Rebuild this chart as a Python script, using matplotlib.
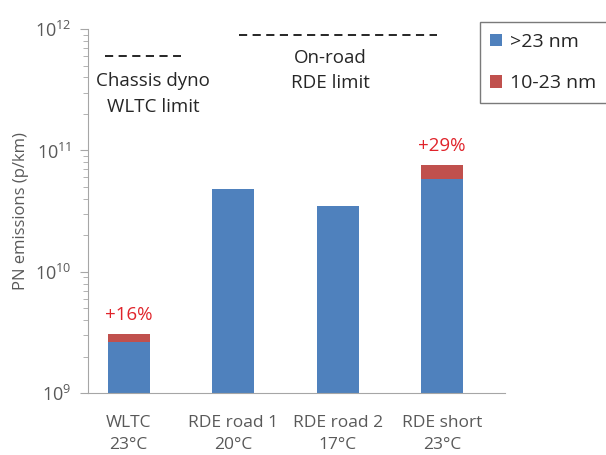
"""PN emissions by test cycle, stacked log-scale bars."""

import matplotlib

matplotlib.use("Agg")
import matplotlib.pyplot as plt
import numpy as np

categories = ["WLTC\n23°C", "RDE road 1\n20°C", "RDE road 2\n17°C", "RDE short\n23°C"]
above_23nm = [2.64e9, 4.85e10, 3.5e10, 5.87e10]
from_10_to_23nm = [0.42e9, 0.0, 0.0, 1.75e10]
pct_labels = ["+16%", "", "", "+29%"]

wltc_limit = 6e11
rde_limit = 9e11

BLUE = "#4F81BD"
RED = "#C0504D"
GREY = "#595959"
TXT = "#262626"

plt.rcParams["font.family"] = ["Open Sans", "DejaVu Sans"]
plt.rcParams["mathtext.default"] = "regular"

fig = plt.figure(figsize=(6.06, 4.55), dpi=100)
ax = fig.add_axes([0.145, 0.136, 0.688, 0.800])

x = np.arange(len(categories))
blue = np.array(above_23nm)
red = np.array(from_10_to_23nm)
ax.bar(x, blue, width=0.4, color=BLUE, label=">23 nm")
ax.bar(x, red, width=0.4, bottom=blue, color=RED, label="10-23 nm")

ax.set_yscale("log")
ax.set_ylim(1e9, 1e12)
ax.set_xlim(-0.39, 3.6)

for xi, top, txt in zip(x, blue + red, pct_labels):
    if txt:
        ax.annotate(txt, (xi, top), xytext=(0, 7), textcoords="offset points",
                    ha="center", va="bottom", color="#E0242B", fontsize=13.5)

# limit lines
ax.plot([-0.23, 0.5], [wltc_limit, wltc_limit], ls=(0, (4.2, 2.8)), color=TXT, lw=1.4)
ax.text(0.235, 4.4e11, "Chassis dyno\nWLTC limit", ha="center", va="top",
        color=TXT, fontsize=13.5, linespacing=1.55)
ax.plot([1.06, 2.95], [rde_limit, rde_limit], ls=(0, (4.2, 2.8)), color=TXT, lw=1.4)
ax.text(1.93, 6.9e11, "On-road\nRDE limit", ha="center", va="top",
        color=TXT, fontsize=13.5, linespacing=1.5)

ax.set_xticks(x)
ax.set_xticklabels(categories, fontsize=12.5, color=GREY, linespacing=1.5)
ax.tick_params(axis="x", length=0, pad=16)

ax.set_yticks([1e9, 1e10, 1e11, 1e12])
ax.set_yticklabels(["10$^{9}$", "10$^{10}$", "10$^{11}$", "10$^{12}$"],
                   fontsize=13, color=GREY)
ax.tick_params(axis="y", which="major", length=6, color="#A6A6A6", pad=6)
ax.tick_params(axis="y", which="minor", length=3.5, color="#A6A6A6")
ax.set_ylabel("PN emissions (p/km)", fontsize=12, color=GREY, labelpad=4)

for side in ("top", "right"):
    ax.spines[side].set_visible(False)
for side in ("left", "bottom"):
    ax.spines[side].set_color("#A6A6A6")

leg = ax.legend(loc="upper left", bbox_to_anchor=(0.94, 1.019), borderaxespad=0,
                fontsize=14, frameon=True, fancybox=False, edgecolor="#595959",
                handlelength=0.6, handleheight=0.6, handletextpad=0.4,
                labelspacing=1.2, borderpad=0.55, labelcolor=TXT)
leg.get_frame().set_linewidth(1.0)
leg.set_clip_on(False)

fig.savefig("out.png", dpi=100)
